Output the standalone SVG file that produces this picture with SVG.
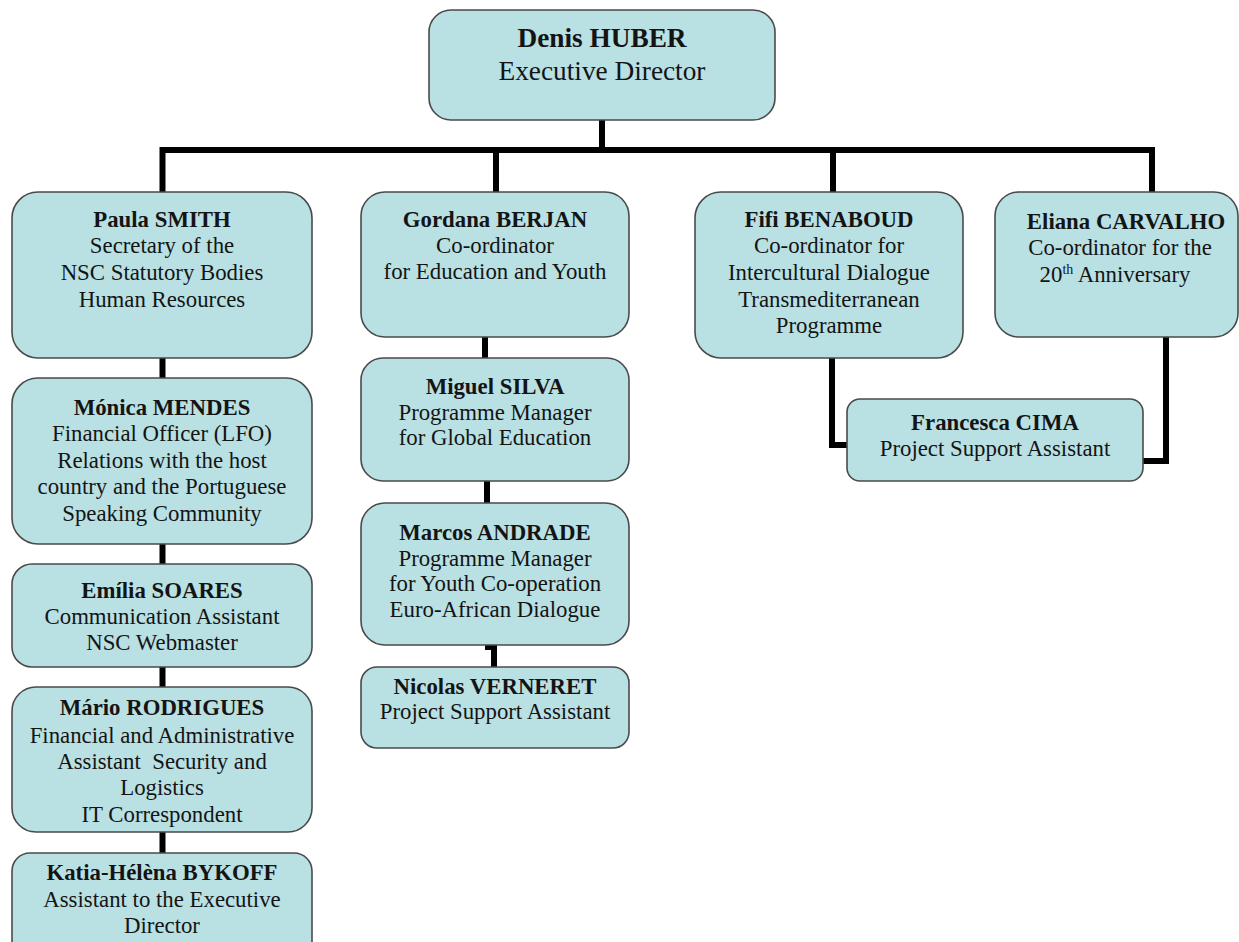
<svg xmlns="http://www.w3.org/2000/svg" width="1239" height="942" viewBox="0 0 1239 942">
<style>
.box{fill:#b9e0e3;stroke:#4a4a4a;stroke-width:1.6}
.t{font-family:"Liberation Serif","Times New Roman",serif;font-size:22.8px;fill:#141414;text-anchor:middle}
.b{font-weight:bold}
.big{font-size:27.3px}
.c{fill:none;stroke:#000;stroke-width:6;stroke-linejoin:miter}
</style>
<rect width="1239" height="942" fill="#fff"/>
<g id="connectors">
<path class="c" d="M602,120 V150"/>
<path class="c" d="M162.5,150 H1155 M162.5,147 V192"/>
<path class="c" d="M496,150 V192"/>
<path class="c" d="M833,150 V192"/>
<path class="c" d="M1152,147 V192"/>
<path class="c" d="M162.5,358 V378 M162.5,544 V564 M162.5,667 V687 M162.5,832 V853"/>
<path class="c" d="M485,337 V358 M487,481 V503"/>
<path class="c" d="M485,647 H494 V667"/>
<path class="c" d="M832,358 V445 H847"/>
<path class="c" d="M1166,337 V461 H1143"/>
</g>
<g id="denis">
<rect class="box" x="429" y="10" width="346" height="110" rx="22"/>
<text class="t b big" x="602" y="47">Denis HUBER</text>
<text class="t big" x="602" y="80">Executive Director</text>
</g>
<g id="paula">
<rect class="box" x="12" y="192" width="300" height="166" rx="26"/>
<text class="t b" x="162" y="227">Paula SMITH</text>
<text class="t" x="162" y="253">Secretary of the</text>
<text class="t" x="162" y="280">NSC Statutory Bodies</text>
<text class="t" x="162" y="306.5">Human Resources</text>
</g>
<g id="monica">
<rect class="box" x="12" y="378" width="300" height="166" rx="26"/>
<text class="t b" x="162" y="415">Mónica MENDES</text>
<text class="t" x="162" y="441">Financial Officer (LFO)</text>
<text class="t" x="162" y="467.5">Relations with the host</text>
<text class="t" x="162" y="493.5">country and the Portuguese</text>
<text class="t" x="162" y="520.5">Speaking Community</text>
</g>
<g id="emilia">
<rect class="box" x="12" y="564" width="300" height="103" rx="20"/>
<text class="t b" x="162" y="597.5">Emília SOARES</text>
<text class="t" x="162" y="623.5">Communication Assistant</text>
<text class="t" x="162" y="650">NSC Webmaster</text>
</g>
<g id="mario">
<rect class="box" x="12" y="687" width="300" height="145" rx="24"/>
<text class="t b" x="162" y="715">Mário RODRIGUES</text>
<text class="t" x="162" y="742.5">Financial and Administrative</text>
<text class="t" x="162" y="769" xml:space="preserve">Assistant  Security and</text>
<text class="t" x="162" y="795">Logistics</text>
<text class="t" x="162" y="821.5">IT Correspondent</text>
</g>
<g id="katia">
<rect class="box" x="12" y="853" width="300" height="110" rx="18"/>
<text class="t b" x="162" y="880">Katia-Hélèna BYKOFF</text>
<text class="t" x="162" y="906.5">Assistant to the Executive</text>
<text class="t" x="162" y="933">Director</text>
</g>
<g id="gordana">
<rect class="box" x="361" y="192" width="268" height="145" rx="24"/>
<text class="t b" x="495" y="227">Gordana BERJAN</text>
<text class="t" x="495" y="253">Co-ordinator</text>
<text class="t" x="495" y="279">for Education and Youth</text>
</g>
<g id="miguel">
<rect class="box" x="361" y="358" width="268" height="123" rx="22"/>
<text class="t b" x="495" y="393.5">Miguel SILVA</text>
<text class="t" x="495" y="420">Programme Manager</text>
<text class="t" x="495" y="445">for Global Education</text>
</g>
<g id="marcos">
<rect class="box" x="361" y="503" width="268" height="142" rx="24"/>
<text class="t b" x="495" y="540">Marcos ANDRADE</text>
<text class="t" x="495" y="566">Programme Manager</text>
<text class="t" x="495" y="591">for Youth Co-operation</text>
<text class="t" x="495" y="617">Euro-African Dialogue</text>
</g>
<g id="nicolas">
<rect class="box" x="361" y="667" width="268" height="81" rx="16"/>
<text class="t b" x="495" y="693.5">Nicolas VERNERET</text>
<text class="t" x="495" y="718.5">Project Support Assistant</text>
</g>
<g id="fifi">
<rect class="box" x="695" y="192" width="268" height="166" rx="26"/>
<text class="t b" x="829" y="227">Fifi BENABOUD</text>
<text class="t" x="829" y="253">Co-ordinator for</text>
<text class="t" x="829" y="280">Intercultural Dialogue</text>
<text class="t" x="829" y="306.5">Transmediterranean</text>
<text class="t" x="829" y="333">Programme</text>
</g>
<g id="eliana">
<rect class="box" x="995" y="192" width="243" height="145" rx="24"/>
<text class="t b" x="1126" y="228.5">Eliana CARVALHO</text>
<text class="t" x="1120" y="255">Co-ordinator for the</text>
<text class="t" x="1115" y="281.5">20<tspan font-size="14" dy="-8">th</tspan><tspan dy="8"> Anniversary</tspan></text>
</g>
<g id="francesca">
<rect class="box" x="847" y="399" width="296" height="82" rx="13"/>
<text class="t b" x="995" y="430">Francesca CIMA</text>
<text class="t" x="995" y="456">Project Support Assistant</text>
</g>
</svg>
